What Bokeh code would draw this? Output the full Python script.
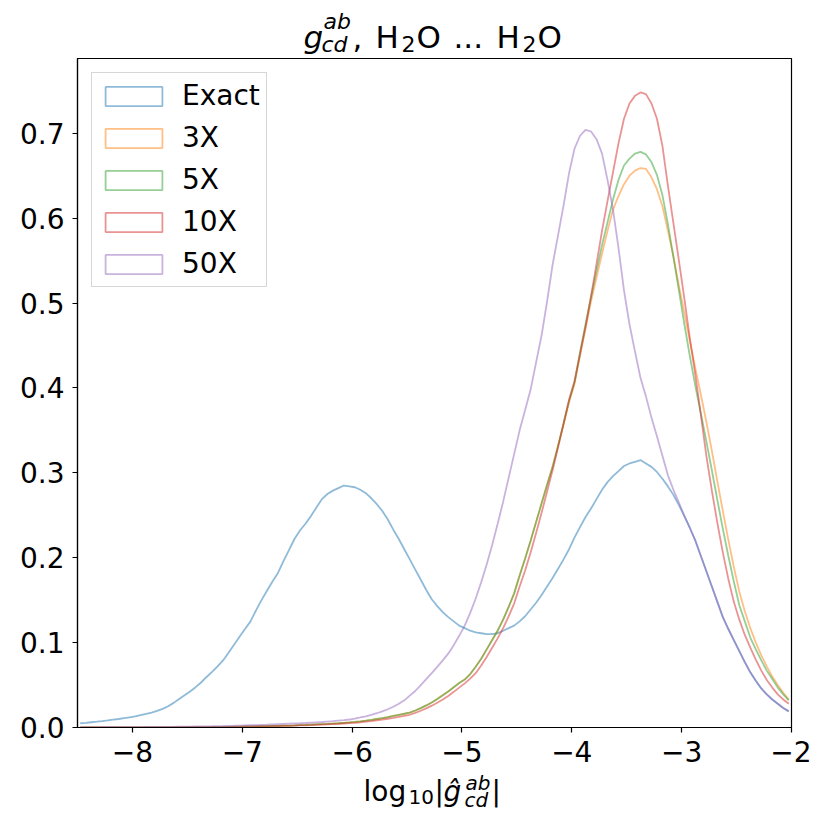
import numpy as np
from bokeh.plotting import figure
from bokeh.layouts import column
from bokeh.models import Range1d, FixedTicker, Label, Legend, LegendItem
from bokeh.embed import file_html
from bokeh.resources import INLINE

# ---------------- data ----------------
bin_start = -8.5
bin_width = 0.05

series_names = ["Exact", "3X", "5X", "10X", "50X"]
series_colors = ["#1f77b4", "#ff7f0e", "#2ca02c", "#d62728", "#9467bd"]

exact = [
    0.0050, 0.0055, 0.0062, 0.0068, 0.0075, 0.0083, 0.0092, 0.0100, 0.0110, 0.0120,
    0.0130, 0.0145, 0.0160, 0.0175, 0.0195, 0.0220, 0.0250, 0.0290, 0.0335, 0.0380,
    0.0425, 0.0475, 0.0530, 0.0595, 0.0655, 0.0720, 0.0790, 0.0880, 0.0975, 0.1070,
    0.1160, 0.1250, 0.1380, 0.1500, 0.1610, 0.1720, 0.1820, 0.1960, 0.2090, 0.2220,
    0.2320, 0.2400, 0.2490, 0.2590, 0.2690, 0.2750, 0.2790, 0.2820, 0.2850, 0.2840,
    0.2830, 0.2800, 0.2760, 0.2700, 0.2630, 0.2550, 0.2450, 0.2330, 0.2220, 0.2100,
    0.1980, 0.1860, 0.1740, 0.1620, 0.1510, 0.1430, 0.1360, 0.1300, 0.1250, 0.1200,
    0.1170, 0.1140, 0.1120, 0.1110, 0.1100, 0.1100, 0.1110, 0.1140, 0.1170, 0.1200,
    0.1250, 0.1310, 0.1390, 0.1470, 0.1560, 0.1660, 0.1760, 0.1870, 0.1980, 0.2100,
    0.2240, 0.2360, 0.2480, 0.2580, 0.2690, 0.2800, 0.2890, 0.2960, 0.3020, 0.3080,
    0.3110, 0.3130, 0.3150, 0.3110, 0.3070, 0.3010, 0.2930, 0.2840, 0.2740, 0.2620,
    0.2490, 0.2350, 0.2200, 0.2020, 0.1840, 0.1660, 0.1480, 0.1300, 0.1160, 0.1030,
    0.0900, 0.0770, 0.0650, 0.0550, 0.0460, 0.0390, 0.0330, 0.0280, 0.0230, 0.0190,
]

x3 = [
    0.0000, 0.0000, 0.0000, 0.0000, 0.0000, 0.0001, 0.0001, 0.0001, 0.0001, 0.0001,
    0.0001, 0.0001, 0.0001, 0.0002, 0.0002, 0.0002, 0.0002, 0.0003, 0.0003, 0.0003,
    0.0004, 0.0004, 0.0005, 0.0005, 0.0006, 0.0007, 0.0007, 0.0008, 0.0009, 0.0010,
    0.0012, 0.0013, 0.0014, 0.0015, 0.0016, 0.0018, 0.0019, 0.0021, 0.0023, 0.0025,
    0.0028, 0.0030, 0.0033, 0.0036, 0.0039, 0.0042, 0.0046, 0.0050, 0.0055, 0.0060,
    0.0066, 0.0073, 0.0081, 0.0090, 0.0100, 0.0111, 0.0123, 0.0137, 0.0150, 0.0162,
    0.0175, 0.0200, 0.0228, 0.0260, 0.0295, 0.0335, 0.0380, 0.0425, 0.0475, 0.0525,
    0.0565, 0.0630, 0.0715, 0.0810, 0.0920, 0.1030, 0.1140, 0.1270, 0.1420, 0.1580,
    0.1790, 0.1990, 0.2200, 0.2420, 0.2640, 0.2860, 0.3070, 0.3320, 0.3570, 0.3830,
    0.4050, 0.4380, 0.4700, 0.5020, 0.5300, 0.5580, 0.5850, 0.6100, 0.6260, 0.6400,
    0.6500, 0.6560, 0.6590, 0.6580, 0.6480, 0.6340, 0.6140, 0.5850, 0.5550, 0.5200,
    0.4880, 0.4550, 0.4230, 0.3920, 0.3600, 0.3260, 0.2900, 0.2550, 0.2210, 0.1890,
    0.1600, 0.1370, 0.1170, 0.1000, 0.0850, 0.0720, 0.0600, 0.0500, 0.0410, 0.0330,
]

x5 = [
    0.0000, 0.0000, 0.0000, 0.0000, 0.0000, 0.0001, 0.0001, 0.0001, 0.0001, 0.0001,
    0.0001, 0.0001, 0.0001, 0.0002, 0.0002, 0.0002, 0.0002, 0.0003, 0.0003, 0.0003,
    0.0004, 0.0004, 0.0005, 0.0005, 0.0006, 0.0007, 0.0007, 0.0008, 0.0009, 0.0010,
    0.0012, 0.0013, 0.0014, 0.0015, 0.0016, 0.0018, 0.0019, 0.0021, 0.0023, 0.0025,
    0.0028, 0.0030, 0.0033, 0.0036, 0.0039, 0.0042, 0.0046, 0.0050, 0.0055, 0.0060,
    0.0066, 0.0073, 0.0081, 0.0090, 0.0100, 0.0111, 0.0123, 0.0137, 0.0150, 0.0162,
    0.0175, 0.0200, 0.0228, 0.0260, 0.0295, 0.0335, 0.0380, 0.0425, 0.0475, 0.0525,
    0.0565, 0.0630, 0.0715, 0.0810, 0.0920, 0.1030, 0.1140, 0.1270, 0.1420, 0.1580,
    0.1790, 0.1990, 0.2200, 0.2420, 0.2640, 0.2860, 0.3070, 0.3320, 0.3580, 0.3850,
    0.4070, 0.4420, 0.4750, 0.5070, 0.5380, 0.5680, 0.5950, 0.6220, 0.6450, 0.6620,
    0.6700, 0.6760, 0.6780, 0.6750, 0.6660, 0.6510, 0.6270, 0.5930, 0.5540, 0.5150,
    0.4750, 0.4370, 0.4020, 0.3700, 0.3370, 0.3030, 0.2680, 0.2340, 0.2020, 0.1720,
    0.1440, 0.1250, 0.1060, 0.0920, 0.0790, 0.0670, 0.0570, 0.0470, 0.0390, 0.0320,
]

x10 = [
    0.0000, 0.0000, 0.0000, 0.0000, 0.0000, 0.0000, 0.0001, 0.0001, 0.0001, 0.0001,
    0.0001, 0.0001, 0.0001, 0.0001, 0.0001, 0.0002, 0.0002, 0.0002, 0.0002, 0.0002,
    0.0003, 0.0003, 0.0003, 0.0004, 0.0004, 0.0005, 0.0005, 0.0006, 0.0006, 0.0007,
    0.0010, 0.0011, 0.0012, 0.0013, 0.0014, 0.0015, 0.0016, 0.0018, 0.0020, 0.0022,
    0.0024, 0.0026, 0.0028, 0.0031, 0.0034, 0.0037, 0.0040, 0.0043, 0.0047, 0.0051,
    0.0055, 0.0061, 0.0068, 0.0075, 0.0084, 0.0093, 0.0103, 0.0114, 0.0126, 0.0138,
    0.0150, 0.0172, 0.0197, 0.0225, 0.0257, 0.0292, 0.0330, 0.0372, 0.0420, 0.0470,
    0.0520, 0.0575, 0.0640, 0.0730, 0.0830, 0.0940, 0.1050, 0.1170, 0.1310, 0.1460,
    0.1660, 0.1850, 0.2060, 0.2290, 0.2530, 0.2780, 0.3030, 0.3300, 0.3580, 0.3860,
    0.4080, 0.4400, 0.4720, 0.5080, 0.5460, 0.5850, 0.6200, 0.6540, 0.6880, 0.7170,
    0.7350, 0.7440, 0.7480, 0.7460, 0.7350, 0.7170, 0.6850, 0.6380, 0.5940, 0.5500,
    0.5050, 0.4580, 0.4150, 0.3680, 0.3200, 0.2790, 0.2410, 0.2060, 0.1750, 0.1480,
    0.1270, 0.1090, 0.0940, 0.0800, 0.0670, 0.0560, 0.0470, 0.0390, 0.0330, 0.0280,
]

x50 = [
    0.0002, 0.0002, 0.0002, 0.0002, 0.0003, 0.0003, 0.0003, 0.0003, 0.0004, 0.0004,
    0.0005, 0.0005, 0.0006, 0.0006, 0.0007, 0.0007, 0.0008, 0.0008, 0.0009, 0.0010,
    0.0011, 0.0012, 0.0013, 0.0014, 0.0015, 0.0017, 0.0018, 0.0020, 0.0021, 0.0023,
    0.0025, 0.0027, 0.0029, 0.0031, 0.0033, 0.0036, 0.0039, 0.0042, 0.0045, 0.0048,
    0.0050, 0.0053, 0.0057, 0.0061, 0.0065, 0.0070, 0.0075, 0.0081, 0.0087, 0.0094,
    0.0105, 0.0118, 0.0132, 0.0150, 0.0168, 0.0190, 0.0215, 0.0245, 0.0280, 0.0320,
    0.0375, 0.0430, 0.0500, 0.0570, 0.0640, 0.0715, 0.0790, 0.0870, 0.0970, 0.1080,
    0.1200, 0.1350, 0.1520, 0.1710, 0.1920, 0.2150, 0.2400, 0.2660, 0.2940, 0.3220,
    0.3500, 0.3740, 0.3980, 0.4300, 0.4620, 0.5020, 0.5450, 0.5800, 0.6150, 0.6530,
    0.6820, 0.6970, 0.7040, 0.7020, 0.6930, 0.6760, 0.6450, 0.6100, 0.5650, 0.5150,
    0.4750, 0.4430, 0.4120, 0.3900, 0.3650, 0.3430, 0.3200, 0.2970, 0.2800, 0.2650,
    0.2490, 0.2350, 0.2200, 0.2020, 0.1840, 0.1660, 0.1480, 0.1300, 0.1160, 0.1030,
    0.0900, 0.0770, 0.0650, 0.0550, 0.0460, 0.0390, 0.0330, 0.0280, 0.0230, 0.0190,
]

series_values = [exact, x3, x5, x10, x50]

x_ticks = [-8, -7, -6, -5, -4, -3, -2]
x_tick_labels = ["\u22128", "\u22127", "\u22126", "\u22125", "\u22124", "\u22123", "\u22122"]
y_ticks = [0.0, 0.1, 0.2, 0.3, 0.4, 0.5, 0.6, 0.7]
y_tick_labels = ["0.0", "0.1", "0.2", "0.3", "0.4", "0.5", "0.6", "0.7"]

# ---------------- layout constants (page pixels) ----------------
FONT = "DejaVu Sans"
FRAME_L, FRAME_W, FRAME_H = 77, 714, 669
FRAME_R = 20
TOP_H = 58           # title strip height (main frame top at page y = 58)
MAIN_BOTTOM = 45
MAIN_H = FRAME_H + MAIN_BOTTOM
LABEL_H = 52
BASELINE_FIX = 10    # measured offset of Label baselines in the rendered page


def text_strip(height):
    # same horizontal frame geometry as the main plot, so x data == page pixels
    f = figure(title=None, frame_width=FRAME_W, frame_height=height,
               min_border_left=FRAME_L, min_border_right=FRAME_R,
               min_border_top=0, min_border_bottom=0,
               x_range=Range1d(FRAME_L, FRAME_L + FRAME_W), y_range=Range1d(height, 0),
               x_axis_type=None, y_axis_type=None,
               output_backend="svg", toolbar_location=None)
    f.outline_line_color = None
    f.grid.visible = False
    f.background_fill_color = "white"
    f.border_fill_color = "white"
    return f


def put(fig, top, text, px, py, size, italic=False):
    fig.add_layout(Label(
        x=px, y=py - top - BASELINE_FIX, text=text, text_font=FONT,
        text_font_size=f"{size}px",
        text_font_style="italic" if italic else "normal",
        text_color="black", text_baseline="alphabetic", text_align="left",
    ))


# ---------------- title strip: g_cd^ab, H2O ... H2O ----------------
title_fig = text_strip(TOP_H)
put(title_fig, 0, "g", 303, 46.7, 31, italic=True)
put(title_fig, 0, "ab", 323, 31, 22, italic=True)
put(title_fig, 0, "cd", 321, 54, 22, italic=True)
put(title_fig, 0, ",", 352, 46.7, 31)
put(title_fig, 0, "H", 375, 46.7, 31)
put(title_fig, 0, "2", 401, 53, 22)
put(title_fig, 0, "O", 416, 46.7, 31)
put(title_fig, 0, "...", 453, 46.7, 31)
put(title_fig, 0, "H", 496, 46.7, 31)
put(title_fig, 0, "2", 522, 53, 22)
put(title_fig, 0, "O", 537, 46.7, 31)

# ---------------- main plot ----------------
p = figure(
    title=None,
    frame_width=FRAME_W, frame_height=FRAME_H,
    min_border_left=FRAME_L, min_border_right=FRAME_R,
    min_border_top=0, min_border_bottom=MAIN_BOTTOM,
    x_range=Range1d(-8.5, -2.0), y_range=Range1d(0.0, 0.788),
    output_backend="svg", toolbar_location=None,
)
p.background_fill_color = "white"
p.border_fill_color = "white"
p.grid.visible = False
p.outline_line_color = "black"
p.outline_line_width = 1.2
p.outline_line_alpha = 1.0

for ax in (p.xaxis, p.yaxis):
    ax.axis_line_color = "black"
    ax.axis_line_width = 1.2
    ax.major_tick_line_color = "black"
    ax.major_tick_line_width = 1.2
    ax.major_tick_in = 0
    ax.major_tick_out = 5
    ax.minor_tick_line_color = None
    ax.major_label_text_font = FONT
    ax.major_label_text_font_size = "28px"
    ax.major_label_text_color = "black"

p.xaxis.ticker = FixedTicker(ticks=x_ticks)
p.xaxis.major_label_overrides = {t: s for t, s in zip(x_ticks, x_tick_labels)}
p.xaxis.major_label_standoff = 8
p.yaxis.ticker = FixedTicker(ticks=y_ticks)
p.yaxis.major_label_overrides = {t: s for t, s in zip(y_ticks, y_tick_labels)}
p.yaxis.major_label_standoff = 8

legend_items = []
for name, color, vals in zip(series_names, series_colors, series_values):
    v = np.asarray(vals, dtype=float)
    centers = bin_start + bin_width * (np.arange(len(v)) + 0.5)
    p.line(x=centers, y=v, line_color=color, line_alpha=0.5, line_width=1.8)
    proxy = p.rect(x=[np.nan], y=[np.nan], width=1, height=1, fill_alpha=0,
                   line_color=color, line_alpha=0.5, line_width=1.8)
    legend_items.append(LegendItem(label=name, renderers=[proxy]))

legend = Legend(
    items=legend_items, location="top_left", margin=14, padding=6,
    spacing=9, glyph_width=71, glyph_height=24, label_standoff=13,
    label_text_font=FONT, label_text_font_size="28px", label_text_color="black",
    border_line_color="#cccccc", border_line_alpha=0.8, border_line_width=1.2,
    background_fill_color="white", background_fill_alpha=0.8,
)
p.add_layout(legend)

# ---------------- x label strip: log10|g^_cd^ab| ----------------
label_top = TOP_H + MAIN_H
xlab_fig = text_strip(LABEL_H)
put(xlab_fig, label_top, "log", 363, 800.5, 28)
put(xlab_fig, label_top, "10", 408, 806.5, 20)
put(xlab_fig, label_top, "|", 434, 800.5, 28)
put(xlab_fig, label_top, "\u011d", 443, 800.5, 28, italic=True)
put(xlab_fig, label_top, "ab", 465, 792, 20, italic=True)
put(xlab_fig, label_top, "cd", 464, 809, 20, italic=True)
put(xlab_fig, label_top, "|", 491, 800.5, 28)

layout = column(title_fig, p, xlab_fig, spacing=0)

html = file_html(layout, INLINE, title="g_cd^ab, H2O ... H2O")
with open("out.html", "w") as f:
    f.write(html)
